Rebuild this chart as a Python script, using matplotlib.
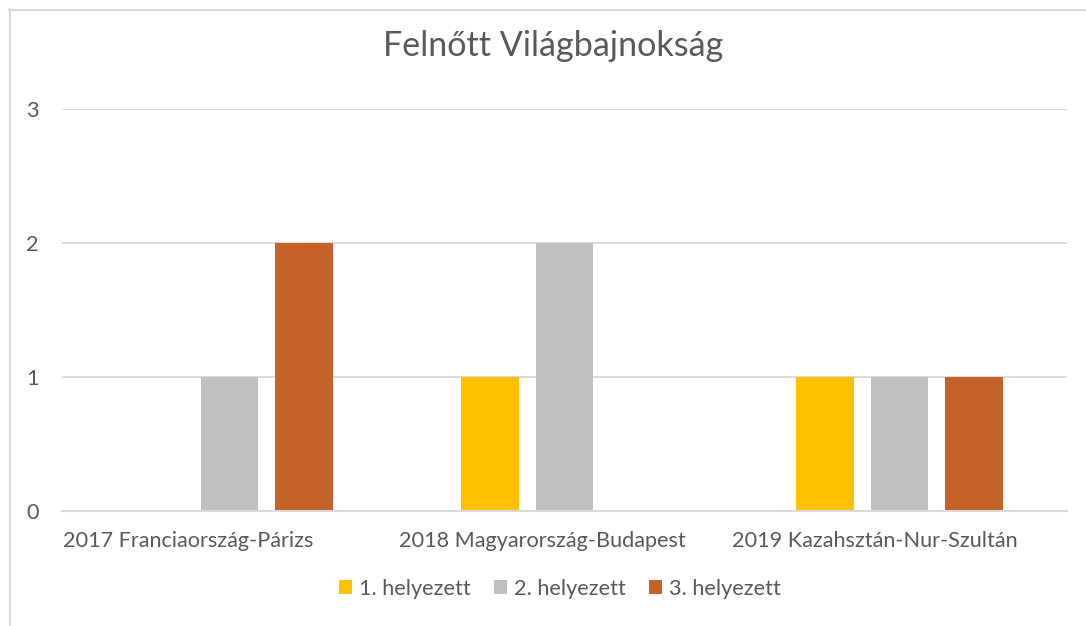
import matplotlib
matplotlib.use("Agg")
import matplotlib.pyplot as plt
import matplotlib.transforms as mtransforms
from matplotlib.patches import Patch
from matplotlib.lines import Line2D
import numpy as np

categories = ["2017 Franciaország-Párizs", "2018 Magyarország-Budapest", "2019 Kazahsztán-Nur-Szultán"]
series_names = ["1. helyezett", "2. helyezett", "3. helyezett"]
first = [0, 1, 1]
second = [1, 2, 1]
third = [2, 0, 1]
title = "Felnőtt Világbajnokság"
yticks = [0, 1, 2, 3]

colors = ["#FFC000", "#BFBFBF", "#C46228"]
text_color = "#595959"
grid_color = "#D9D9D9"

plt.rcParams['font.family'] = ['Lato', 'DejaVu Sans']

fig = plt.figure(figsize=(10.86, 6.26), dpi=100)
ax = fig.add_axes([62/1086, 1 - 511/626, 1005/1086, 402/626])

x = np.arange(len(categories))
width = 0.173
step = 0.221
for i, (vals, c) in enumerate(zip([first, second, third], colors)):
    ax.bar(x + (i - 1) * step, vals, width, color=c, zorder=3)

ax.set_xlim(-0.5, len(categories) - 0.5)
ax.set_ylim(0, 3)
ax.set_yticks(yticks)
ax.set_yticklabels([str(v) for v in yticks])
ax.grid(axis='y', color=grid_color, linewidth=1.3, zorder=0)
for s in ['top', 'right', 'left']:
    ax.spines[s].set_visible(False)
ax.spines['bottom'].set_color(grid_color)
ax.spines['bottom'].set_linewidth(1.5)
ax.spines['bottom'].set_zorder(4)
ax.tick_params(axis='both', length=0, colors=text_color, labelsize=15.6)
ax.tick_params(axis='y', pad=17)
ax.tick_params(axis='x', pad=14.5)
ax.set_xticks(x)
ax.set_xticklabels(categories)
# shift labels like the original
offsets_px = [-41, -22, -25]
for lab, off in zip(ax.get_xticklabels(), offsets_px):
    lab.set_transform(lab.get_transform() + mtransforms.Affine2D().translate(off, 0))

fig.text(553/1086, 1 - 46/626, title, ha='center', va='center', fontsize=24.6, color=text_color)

handles = [Patch(facecolor=c, edgecolor='none') for c in colors]
leg = fig.legend(handles, series_names, loc='center', bbox_to_anchor=(560/1086, 1 - 589/626),
                 ncol=3, frameon=False, fontsize=15.6, handlelength=0.6, handleheight=0.6,
                 handletextpad=0.3, columnspacing=1.1, labelcolor=text_color)

# chart border (top and left visible)
fig.add_artist(Line2D([9.5/1086, 9.5/1086], [0, 1 - 9/626], transform=fig.transFigure,
                      color=grid_color, linewidth=1.5))
fig.add_artist(Line2D([9/1086, 1], [1 - 9.5/626, 1 - 9.5/626], transform=fig.transFigure,
                      color=grid_color, linewidth=1.5))

fig.savefig("out.png", dpi=100)
